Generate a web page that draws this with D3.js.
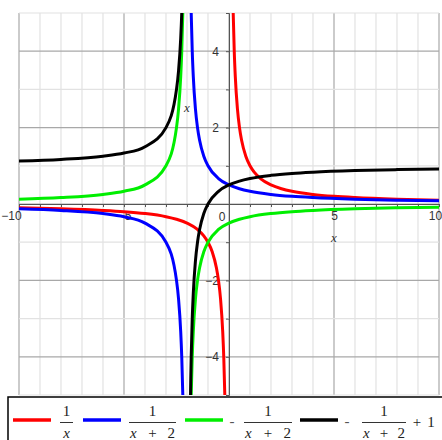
<!DOCTYPE html>
<html>
<head>
<meta charset="utf-8">
<script src="https://cdn.jsdelivr.net/npm/d3@7"></script>
<style>
  html, body { margin: 0; padding: 0; background: #fff; }
  svg { display: block; }
</style>
</head>
<body>
<div id="chart"></div>
<script>
// sample points (two branches per curve, split at the asymptote)
const xRecipLeft  = [-10, -8, -6, -5, -4, -3, -2.5, -2, -1.5, -1.2, -1, -0.8, -0.6, -0.5, -0.4, -0.3, -0.25, -0.2, -0.18, -0.15];
const xRecipRight = [0.15, 0.18, 0.2, 0.25, 0.3, 0.4, 0.5, 0.6, 0.8, 1, 1.2, 1.5, 2, 2.5, 3, 4, 5, 6, 8, 10];
const xShiftLeft  = [-10, -8, -6, -5, -4, -3, -2.5, -2.4, -2.3, -2.25, -2.2, -2.18, -2.15];
const xShiftRight = [-1.85, -1.82, -1.8, -1.75, -1.7, -1.6, -1.5, -1.4, -1.2, -1, -0.5, 0, 0.5, 1, 2, 3, 4, 6, 8, 10];

const redLeft    = [-0.1, -0.125, -0.167, -0.2, -0.25, -0.333, -0.4, -0.5, -0.667, -0.833, -1, -1.25, -1.667, -2, -2.5, -3.333, -4, -5, -5.556, -6.667];
const redRight   = [6.667, 5.556, 5, 4, 3.333, 2.5, 2, 1.667, 1.25, 1, 0.833, 0.667, 0.5, 0.4, 0.333, 0.25, 0.2, 0.167, 0.125, 0.1];
const blueLeft   = [-0.125, -0.167, -0.25, -0.333, -0.5, -1, -2, -2.5, -3.333, -4, -5, -5.556, -6.667];
const blueRight  = [6.667, 5.556, 5, 4, 3.333, 2.5, 2, 1.667, 1.25, 1, 0.667, 0.5, 0.4, 0.333, 0.25, 0.2, 0.167, 0.125, 0.1, 0.083];
const greenLeft  = [0.125, 0.167, 0.25, 0.333, 0.5, 1, 2, 2.5, 3.333, 4, 5, 5.556, 6.667];
const greenRight = [-6.667, -5.556, -5, -4, -3.333, -2.5, -2, -1.667, -1.25, -1, -0.667, -0.5, -0.4, -0.333, -0.25, -0.2, -0.167, -0.125, -0.1, -0.083];
const blackLeft  = [1.125, 1.167, 1.25, 1.333, 1.5, 2, 3, 3.5, 4.333, 5, 6, 6.556, 7.667];
const blackRight = [-5.667, -4.556, -4, -3, -2.333, -1.5, -1, -0.667, -0.25, 0, 0.333, 0.5, 0.6, 0.667, 0.75, 0.8, 0.833, 0.875, 0.9, 0.917];

const xLabels = [-10, -5, 5, 10];
const yLabels = [-4, -2, 2, 4];

const width = 442, height = 440;
const x = d3.scaleLinear().domain([-10, 10]).range([19, 439]);
const y = d3.scaleLinear().domain([-5, 5]).range([395, 13]);

const svg = d3.select("#chart").append("svg")
  .attr("width", width).attr("height", height);

// grid
const xInts = d3.range(-10, 11), yInts = d3.range(-5, 6);
svg.append("g").selectAll("line")
  .data(xInts).join("line")
  .attr("x1", d => x(d)).attr("x2", d => x(d))
  .attr("y1", y(5)).attr("y2", y(-5))
  .attr("stroke", d => d % 5 === 0 ? "#a8a8a8" : "#e2e2e2")
  .attr("stroke-width", 1.2);
svg.append("g").selectAll("line")
  .data(yInts).join("line")
  .attr("x1", x(-10)).attr("x2", x(10))
  .attr("y1", d => y(d)).attr("y2", d => y(d))
  .attr("stroke", d => d % 2 === 0 ? "#a8a8a8" : "#e2e2e2")
  .attr("stroke-width", 1.2);

// axes through the origin
const xAxis = svg.append("g")
  .attr("transform", `translate(0,${y(0)})`)
  .call(d3.axisBottom(x).tickValues(xInts).tickSize(3).tickPadding(4)
    .tickFormat(d => xLabels.includes(d) ? d3.format("d")(d) : ""));
xAxis.select(".domain").attr("stroke", "#555");
xAxis.selectAll(".tick line").attr("stroke", "#555");
xAxis.selectAll("text").attr("font-family", "Liberation Sans, Arial, sans-serif")
  .attr("font-size", 12).attr("fill", "#333");
xAxis.selectAll(".tick").filter(d => d === -10).select("text").attr("dx", -8);
xAxis.selectAll(".tick").filter(d => d === 10).select("text").attr("dx", -4);

const yAxis = svg.append("g")
  .attr("transform", `translate(${x(0)},0)`)
  .call(d3.axisLeft(y).tickValues(yInts).tickSize(3).tickPadding(7)
    .tickFormat(d => yLabels.includes(d) ? d3.format("d")(d) : ""));
yAxis.select(".domain").attr("stroke", "#555");
yAxis.selectAll(".tick line").attr("stroke", "#555");
yAxis.selectAll("text").attr("font-family", "Liberation Sans, Arial, sans-serif")
  .attr("font-size", 12).attr("fill", "#333");

svg.append("text")
  .attr("x", x(0) - 7).attr("y", y(0) + 17)
  .attr("text-anchor", "middle")
  .attr("font-family", "Liberation Sans, Arial, sans-serif")
  .attr("font-size", 12).attr("fill", "#333").text("0");

// axis names
svg.append("text")
  .attr("x", x(5)).attr("y", 242).attr("text-anchor", "middle")
  .attr("font-family", "Liberation Serif, serif").attr("font-style", "italic")
  .attr("font-size", 13).attr("fill", "#333").text("x");
svg.append("text")
  .attr("x", 187).attr("y", 112).attr("text-anchor", "middle")
  .attr("font-family", "Liberation Serif, serif").attr("font-style", "italic")
  .attr("font-size", 13).attr("fill", "#333").text("x");

// curves
svg.append("clipPath").attr("id", "plotClip")
  .append("rect")
  .attr("x", x(-10)).attr("y", y(5))
  .attr("width", x(10) - x(-10)).attr("height", y(-5) - y(5));

const line = d3.line()
  .x(d => x(d[0])).y(d => y(d[1]))
  .curve(d3.curveMonotoneX);

const zip = (xs, ys) => xs.map((v, i) => [v, ys[i]]);
const series = [
  { color: "#ff0000", branches: [zip(xRecipLeft, redLeft), zip(xRecipRight, redRight)] },
  { color: "#0000ff", branches: [zip(xShiftLeft, blueLeft), zip(xShiftRight, blueRight)] },
  { color: "#00ee00", branches: [zip(xShiftLeft, greenLeft), zip(xShiftRight, greenRight)] },
  { color: "#000000", branches: [zip(xShiftLeft, blackLeft), zip(xShiftRight, blackRight)] }
];

const curves = svg.append("g").attr("clip-path", "url(#plotClip)");
series.forEach(s => {
  s.branches.forEach(b => {
    curves.append("path")
      .datum(b)
      .attr("d", line)
      .attr("fill", "none")
      .attr("stroke", s.color)
      .attr("stroke-width", 3);
  });
});

// legend
svg.append("rect")
  .attr("x", 8).attr("y", 397).attr("width", 440).attr("height", 50)
  .attr("fill", "#fff").attr("stroke", "#000").attr("stroke-width", 1.5);

const legend = svg.append("g")
  .attr("font-family", "Liberation Serif, Times New Roman, serif")
  .attr("font-size", 15).attr("fill", "#222");

function swatch(x0, color) {
  legend.append("line")
    .attr("x1", x0).attr("x2", x0 + 38)
    .attr("y1", 420).attr("y2", 420)
    .attr("stroke", color).attr("stroke-width", 3.5);
}
function frac(x0, x1, plus) {
  const cx = (x0 + x1) / 2;
  legend.append("text").attr("x", cx).attr("y", 416)
    .attr("text-anchor", "middle").text("1");
  legend.append("line")
    .attr("x1", x0).attr("x2", x1).attr("y1", 422.5).attr("y2", 422.5)
    .attr("stroke", "#333").attr("stroke-width", 1);
  if (plus) {
    legend.append("text").attr("x", x0 + 1).attr("y", 438)
      .attr("font-style", "italic").text("x");
    legend.append("text").attr("x", cx).attr("y", 438)
      .attr("text-anchor", "middle").text("+");
    legend.append("text").attr("x", x1 - 1).attr("y", 438)
      .attr("text-anchor", "end").text("2");
  } else {
    legend.append("text").attr("x", cx).attr("y", 438)
      .attr("text-anchor", "middle").attr("font-style", "italic").text("x");
  }
}
function minus(cx) {
  legend.append("text").attr("x", cx).attr("y", 426)
    .attr("text-anchor", "middle").attr("fill", "#555").text("-");
}

swatch(13, "#ff0000");
frac(60, 73, false);
swatch(83, "#0000ff");
frac(129, 176, true);
swatch(185, "#00ee00");
minus(232);
frac(244, 292, true);
swatch(300, "#000000");
minus(347);
frac(362, 406, true);
legend.append("text").attr("x", 417).attr("y", 427)
  .attr("text-anchor", "middle").text("+");
legend.append("text").attr("x", 431).attr("y", 427)
  .attr("text-anchor", "middle").text("1");
</script>
</body>
</html>
